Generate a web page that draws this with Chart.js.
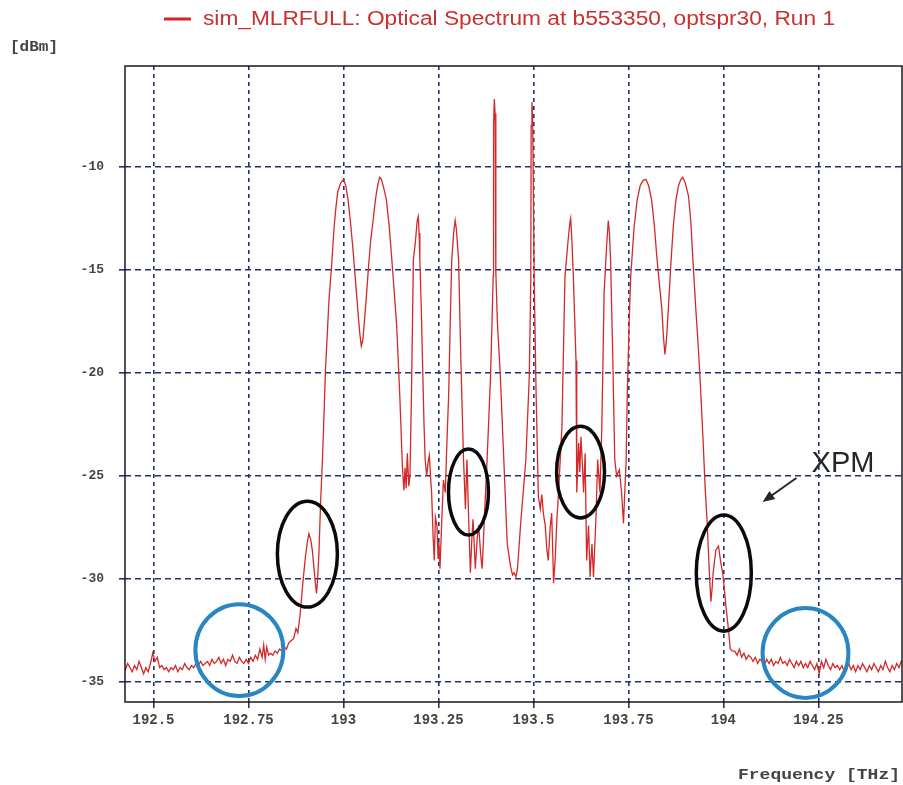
<!DOCTYPE html>
<html><head><meta charset="utf-8">
<script src="https://cdn.jsdelivr.net/npm/chart.js@4.4.1/dist/chart.umd.min.js"></script>
<style>html,body{margin:0;padding:0;background:#fff}#wrap{width:903px;height:785px;position:relative}</style>
</head><body><div id="wrap"><canvas id="c"></canvas></div>
<script>
// ---- data ----
const seriesName = 'sim_MLRFULL: Optical Spectrum at b553350, optspr30, Run 1';
const yUnitLabel = '[dBm]';
const xAxisTitle = 'Frequency [THz]';
const xTicks = [192.5, 192.75, 193, 193.25, 193.5, 193.75, 194, 194.25];
const yTicks = [-35, -30, -25, -20, -15, -10];

// left noise floor
const floorLeftF = [192.420,192.426,192.432,192.438,192.444,192.450,192.456,192.462,192.468,192.474,
 192.480,192.486,192.492,192.498,192.504,192.510,192.516,192.522,192.528,192.534,
 192.540,192.546,192.552,192.558,192.564,192.570,192.576,192.582,192.588,192.594,
 192.600,192.606,192.612,192.618,192.624,192.630,192.636,192.642,192.648,192.654,
 192.660,192.666,192.672,192.678,192.684,192.690,192.696,192.702,192.708,192.714,
 192.720,192.726,192.732,192.738,192.744,192.750,192.756,192.762,192.768,192.774,
 192.780,192.786,192.790,192.794,192.798,192.803,192.808,192.814,192.820,192.826,
 192.832,192.838,192.844,192.850,192.856,192.862];
const floorLeftP = [-34.2,-34.4,-34.1,-34.3,-34.5,-34.2,-34.4,-34.0,-34.3,-34.6,
 -34.3,-34.5,-34.1,-33.6,-34.0,-33.8,-34.3,-34.2,-34.4,-34.3,
 -34.5,-34.3,-34.4,-34.2,-34.5,-34.3,-34.4,-34.1,-34.3,-34.4,
 -34.2,-34.3,-34.1,-34.2,-34.0,-34.2,-34.1,-34.0,-34.2,-33.9,
 -34.1,-34.0,-33.8,-34.1,-33.9,-34.2,-33.9,-34.0,-33.7,-34.0,
 -34.1,-33.8,-34.0,-34.1,-33.9,-34.1,-33.8,-34.0,-33.7,-33.9,
 -33.4,-33.8,-33.2,-33.9,-33.3,-33.7,-33.6,-33.7,-33.5,-33.6,
 -33.4,-33.5,-33.3,-33.4,-33.1,-33.0];

// channel band
const bandF = [192.869,192.875,192.880,192.886,192.893,192.900,192.905,192.909,192.914,192.918,
 192.922,192.926,192.929,192.932,192.935,192.938,192.940,192.944,192.947,192.950,
 192.953,192.958,192.962,192.968,192.975,192.980,192.985,192.992,193.000,193.006,
 193.012,193.018,193.025,193.032,193.038,193.043,193.047,193.051,193.056,193.061,
 193.067,193.072,193.078,193.084,193.090,193.095,193.100,193.107,193.113,193.120,
 193.126,193.133,193.140,193.148,193.155,193.159,193.162,193.165,193.168,193.172,
 193.175,193.177,193.179,193.184,193.189,193.194,193.197,193.199,193.201,193.205,
 193.208,193.212,193.215,193.219,193.223,193.226,193.229,193.232,193.236,193.239,
 193.242,193.246,193.249,193.251,193.254,193.258,193.263,193.268,193.272,193.277,
 193.281,193.285,193.290,193.294,193.297,193.303,193.309,193.316,193.321,193.325,
 193.330,193.334,193.338,193.341,193.347,193.352,193.356,193.361,193.365,193.371,
 193.378,193.387,193.391,193.394,193.395,193.397,193.399,193.401,193.405,193.413,
 193.422,193.431,193.440,193.445,193.449,193.454,193.458,193.466,193.480,193.489,
 193.493,193.494,193.496,193.498,193.502,193.507,193.513,193.518,193.522,193.526,
 193.531,193.535,193.539,193.544,193.548,193.553,193.557,193.562,193.566,193.575,
 193.580,193.583,193.592,193.596,193.598,193.601,193.605,193.612,193.614,193.619,
 193.622,193.625,193.629,193.632,193.636,193.640,193.645,193.649,193.654,193.658,
 193.665,193.669,193.675,193.680,193.686,193.693,193.697,193.700,193.703,193.709,
 193.714,193.719,193.726,193.732,193.737,193.741,193.744,193.747,193.752,193.756,
 193.765,193.773,193.781,193.789,193.796,193.803,193.811,193.818,193.824,193.831,
 193.838,193.842,193.846,193.850,193.855,193.862,193.868,193.875,193.882,193.888,
 193.893,193.900,193.908,193.914,193.920,193.927,193.934,193.940,193.947,193.952,
 193.957,193.963,193.967,193.970,193.973,193.980,193.987,193.993,193.998,194.003,
 194.007,194.013,194.018,194.024];
const bandP = [-32.9,-32.4,-32.6,-31.7,-30.2,-28.9,-28.2,-27.8,-28.1,-28.6,
 -29.4,-30.2,-30.7,-30.0,-28.9,-27.3,-26.2,-24.5,-23.0,-21.3,
 -19.7,-17.9,-16.4,-15.0,-13.0,-12.0,-11.2,-10.8,-10.6,-10.9,
 -11.6,-12.6,-14.0,-15.6,-17.0,-18.1,-18.7,-18.4,-17.3,-16.1,
 -14.6,-13.5,-12.6,-11.6,-10.9,-10.5,-10.6,-11.1,-11.6,-12.8,
 -14.2,-15.9,-17.7,-21.0,-24.5,-25.7,-24.6,-25.6,-23.9,-25.5,
 -25.0,-23.0,-21.0,-14.5,-13.7,-12.6,-12.4,-13.2,-14.5,-17.0,
 -19.4,-22.5,-24.2,-25.0,-24.3,-24.0,-25.0,-25.8,-28.0,-29.1,
 -27.0,-27.4,-29.0,-28.2,-29.5,-27.5,-25.2,-25.8,-23.5,-21.0,
 -17.5,-14.5,-13.2,-12.6,-13.0,-14.5,-19.4,-24.2,-26.6,-24.2,
 -27.4,-29.7,-28.0,-27.1,-29.5,-28.0,-27.4,-28.8,-29.5,-27.0,
 -24.2,-20.2,-17.5,-15.3,-8.0,-6.7,-7.4,-15.1,-17.5,-20.2,
 -24.2,-28.3,-29.4,-29.8,-29.7,-29.9,-29.5,-27.4,-24.2,-20.2,
 -15.5,-8.0,-6.85,-7.6,-15.5,-21.0,-26.0,-26.6,-25.9,-26.8,
 -27.4,-28.5,-29.1,-27.5,-26.8,-30.2,-29.1,-27.0,-25.8,-22.6,
 -18.0,-15.3,-13.4,-12.7,-12.5,-13.5,-15.3,-19.4,-25.8,-23.4,
 -24.8,-23.1,-24.5,-25.8,-23.9,-29.1,-27.4,-29.9,-28.3,-29.9,
 -26.8,-24.2,-25.8,-22.6,-16.1,-13.7,-12.6,-13.2,-14.5,-19.4,
 -24.2,-25.0,-24.7,-25.8,-27.3,-25.5,-24.2,-21.0,-17.5,-15.3,
 -12.9,-11.6,-10.9,-10.65,-10.6,-10.9,-11.6,-12.8,-14.2,-15.6,
 -16.9,-18.2,-19.1,-18.4,-16.9,-14.6,-12.9,-11.6,-10.9,-10.6,
 -10.5,-10.8,-11.4,-12.6,-14.6,-16.8,-18.8,-20.8,-23.5,-25.6,
 -27.2,-29.7,-31.1,-30.5,-29.7,-28.6,-28.4,-29.2,-29.7,-30.6,
 -31.4,-32.4,-33.4,-33.5];

// right noise floor
const floorRightF = [194.030,194.036,194.042,194.048,194.054,194.060,194.066,194.072,194.078,194.084,
 194.090,194.096,194.102,194.108,194.114,194.120,194.126,194.132,194.138,194.144,
 194.150,194.156,194.162,194.168,194.174,194.180,194.186,194.192,194.198,194.204,
 194.210,194.216,194.222,194.228,194.234,194.240,194.246,194.252,194.258,194.264,
 194.270,194.276,194.282,194.288,194.294,194.300,194.306,194.312,194.318,194.324,
 194.330,194.336,194.342,194.348,194.354,194.360,194.366,194.372,194.378,194.384,
 194.390,194.396,194.402,194.408,194.414,194.420,194.426,194.432,194.438,194.444,
 194.450,194.456,194.462,194.468,194.474];
const floorRightP = [-33.5,-33.7,-33.4,-33.8,-33.6,-33.9,-33.7,-33.8,-34.0,-33.8,
 -34.1,-33.9,-34.0,-34.2,-33.9,-34.1,-33.9,-34.2,-34.0,-34.1,
 -33.8,-34.1,-34.0,-34.2,-33.9,-34.1,-34.3,-34.0,-34.2,-34.0,
 -34.3,-34.1,-34.3,-34.0,-34.2,-34.4,-34.1,-34.6,-34.0,-34.3,
 -33.9,-34.2,-34.4,-34.1,-34.3,-34.2,-34.4,-34.2,-34.5,-34.3,
 -34.1,-34.4,-34.2,-34.5,-34.2,-34.4,-34.1,-34.3,-34.5,-34.2,
 -34.4,-34.1,-34.3,-34.5,-34.2,-34.4,-34.0,-34.3,-34.5,-34.2,
 -34.4,-34.1,-34.3,-34.0,-34.2];

// annotations (data units): centre freq, centre power, half-width THz, half-height dB
const xpmEllipseF = [192.905, 193.329, 193.624, 194.001];
const xpmEllipseP = [-28.79, -25.78, -24.81, -29.71];
const xpmEllipseRF = [0.079, 0.0526, 0.063, 0.0724];
const xpmEllipseRP = [2.57, 2.09, 2.23, 2.82];
const floorCircleF = [192.726, 194.216];
const floorCircleP = [-33.45, -33.59];
const floorCircleRF = [0.1158, 0.113];
const floorCircleRP = [2.23, 2.18];
const xpmLabel = 'XPM';
const xpmLabelAt = [194.232, -24.8];
const xpmArrowFrom = [194.192, -25.10];
const xpmArrowTo = [194.103, -26.26];

// ---- build series ----
const allF = floorLeftF.concat(bandF, floorRightF);
const allP = floorLeftP.concat(bandP, floorRightP);
const points = allF.map((f, i) => ({x: f, y: allP[i]}));

// text drawn horizontally stretched to a target width (reference is slightly widened)
function fillTextWidth(ctx, text, x, y, width, align) {
  const w = ctx.measureText(text).width;
  const k = width / w;
  ctx.save();
  const left = align === 'right' ? x - width : x;
  ctx.translate(left, y);
  ctx.scale(k, 1);
  ctx.textAlign = 'left';
  ctx.fillText(text, 0, 0);
  ctx.restore();
}

const overlay = {
  id: 'overlay',
  afterDatasetsDraw(chart) {
    const {ctx, chartArea: a, scales: {x, y}} = chart;
    ctx.save();
    ctx.setLineDash([]);
    // plot frame
    ctx.strokeStyle = '#1a1a1a';
    ctx.lineWidth = 1.5;
    ctx.strokeRect(a.left, a.top, a.right - a.left, a.bottom - a.top);
    const ell = (f, p, rf, rp, color, w) => {
      const cx = x.getPixelForValue(f), cy = y.getPixelForValue(p);
      const rx = Math.abs(x.getPixelForValue(f + rf) - cx);
      const ry = Math.abs(y.getPixelForValue(p + rp) - cy);
      ctx.beginPath();
      ctx.ellipse(cx, cy, rx, ry, 0, 0, Math.PI * 2);
      ctx.strokeStyle = color; ctx.lineWidth = w; ctx.stroke();
    };
    xpmEllipseF.forEach((f, i) => ell(f, xpmEllipseP[i], xpmEllipseRF[i], xpmEllipseRP[i], '#0a0a0a', 3.5));
    floorCircleF.forEach((f, i) => ell(f, floorCircleP[i], floorCircleRF[i], floorCircleRP[i], '#2a86c2', 4));
    // XPM label and arrow
    ctx.fillStyle = '#262626';
    ctx.font = '29px "Liberation Sans", Arial, sans-serif';
    ctx.textAlign = 'left'; ctx.textBaseline = 'alphabetic';
    ctx.fillText(xpmLabel, x.getPixelForValue(xpmLabelAt[0]), y.getPixelForValue(xpmLabelAt[1]));
    const x1 = x.getPixelForValue(xpmArrowFrom[0]), y1 = y.getPixelForValue(xpmArrowFrom[1]);
    const x2 = x.getPixelForValue(xpmArrowTo[0]), y2 = y.getPixelForValue(xpmArrowTo[1]);
    const ang = Math.atan2(y2 - y1, x2 - x1);
    ctx.strokeStyle = '#262626'; ctx.lineWidth = 2;
    ctx.beginPath(); ctx.moveTo(x1, y1);
    ctx.lineTo(x2 - 9 * Math.cos(ang), y2 - 9 * Math.sin(ang)); ctx.stroke();
    ctx.beginPath();
    ctx.moveTo(x2, y2);
    ctx.lineTo(x2 - 12 * Math.cos(ang) + 5 * Math.sin(ang), y2 - 12 * Math.sin(ang) - 5 * Math.cos(ang));
    ctx.lineTo(x2 - 12 * Math.cos(ang) - 5 * Math.sin(ang), y2 - 12 * Math.sin(ang) + 5 * Math.cos(ang));
    ctx.closePath(); ctx.fillStyle = '#262626'; ctx.fill();
    ctx.restore();
  },
  afterDraw(chart) {
    const ctx = chart.ctx;
    ctx.save();
    // legend entry
    ctx.strokeStyle = '#d42525'; ctx.lineWidth = 3;
    ctx.beginPath(); ctx.moveTo(164, 19); ctx.lineTo(191, 19); ctx.stroke();
    ctx.fillStyle = '#c9302f';
    ctx.font = '20px "Liberation Sans", Arial, sans-serif';
    ctx.textBaseline = 'middle';
    fillTextWidth(ctx, seriesName, 203, 19, 632, 'left');
    // axis unit labels
    ctx.fillStyle = '#444';
    ctx.font = 'bold 14px "Liberation Mono", monospace';
    ctx.textBaseline = 'middle';
    fillTextWidth(ctx, yUnitLabel, 10, 47, 48, 'left');
    ctx.font = 'bold 15px "Liberation Mono", monospace';
    fillTextWidth(ctx, xAxisTitle, 900, 775, 162, 'right');
    ctx.restore();
  }
};

new Chart(document.getElementById('c'), {
  type: 'line',
  data: {
    datasets: [{
      label: seriesName,
      data: points,
      borderColor: '#d22a2a',
      borderWidth: 1.3,
      pointRadius: 0,
      tension: 0,
      fill: false
    }]
  },
  options: {
    responsive: true,
    maintainAspectRatio: false,
    animation: false,
    events: [],
    layout: {padding: {top: 66, right: 1, left: 0, bottom: 0}},
    plugins: {legend: {display: false}, tooltip: {enabled: false}, title: {display: false}},
    scales: {
      x: {
        type: 'linear', min: 192.425, max: 194.47,
        afterBuildTicks: s => { s.ticks = xTicks.map(v => ({value: v})); },
        afterFit: s => { s.height = 83; },
        grid: {color: '#263070', lineWidth: 1.6, tickLength: 6},
        border: {display: false, dash: [4, 4]},
        ticks: {
          autoSkip: false, maxRotation: 0, padding: 4, color: '#444',
          font: {family: '"Liberation Mono", monospace', size: 14, weight: 'bold'},
          callback: v => String(v)
        }
      },
      y: {
        type: 'linear', min: -35.97, max: -5.1,
        afterBuildTicks: s => { s.ticks = yTicks.map(v => ({value: v})); },
        afterFit: s => { s.width = 125; },
        grid: {color: '#263070', lineWidth: 1.6, tickLength: 6},
        border: {display: false, dash: [6, 4]},
        ticks: {
          padding: 15, color: '#444',
          font: {family: '"Liberation Mono", monospace', size: 13, weight: 'bold'},
          callback: v => String(v)
        }
      }
    }
  },
  plugins: [overlay]
});
</script>
</body></html>
